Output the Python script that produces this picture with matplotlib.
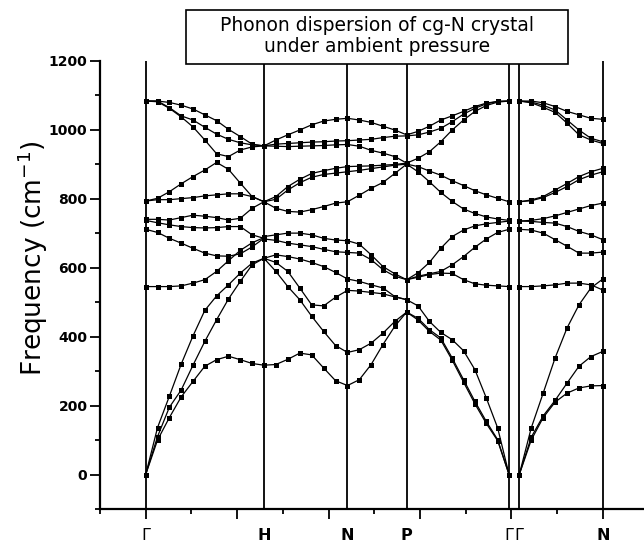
import numpy as np
import matplotlib
matplotlib.use("Agg")
import matplotlib.pyplot as plt
from matplotlib.patches import Rectangle
from matplotlib.ticker import MultipleLocator, NullFormatter

# high-symmetry points along the bcc path (x units of the original axis)
KPOS = [0.0, 1.293, 2.207, 2.854, 3.974, 4.086, 5.0]
KLAB = ["\u0393", "H", "N", "P", "\u0393", "\u0393", "N"]

# phonon frequencies (cm-1), one row per branch, read segment by segment
G_H = [
    [1083, 1083, 1079, 1071, 1060, 1043, 1026, 1001, 980, 958, 953],
    [1083, 1083, 1064, 1040, 1028, 1007, 987, 972, 962, 956, 953],
    [1083, 1081, 1062, 1037, 1008, 970, 930, 922, 941, 950, 953],
    [793, 801, 820, 843, 864, 883, 905, 885, 845, 806, 791],
    [793, 797, 797, 800, 803, 808, 811, 814, 814, 806, 791],
    [740, 740, 738, 745, 752, 749, 745, 738, 743, 772, 791],
    [737, 730, 724, 719, 716, 715, 716, 719, 719, 695, 685],
    [711, 702, 685, 671, 656, 642, 634, 633, 640, 660, 685],
    [545, 545, 545, 547, 555, 565, 589, 620, 650, 672, 687],
    [0, 136, 227, 320, 402, 476, 518, 550, 584, 613, 627],
    [0, 110, 195, 245, 317, 386, 449, 509, 560, 608, 627],
    [0, 100, 165, 225, 270, 314, 333, 343, 333, 322, 317],
]
H_N = [
    [953, 970, 985, 999, 1014, 1025, 1030, 1033],
    [953, 958, 960, 962, 964, 965, 967, 968],
    [953, 952, 951, 952, 953, 954, 956, 957],
    [791, 806, 835, 856, 873, 881, 888, 893],
    [791, 798, 825, 846, 862, 870, 874, 878],
    [791, 772, 763, 761, 768, 777, 787, 791],
    [690, 695, 700, 700, 695, 685, 680, 678],
    [683, 679, 671, 666, 661, 653, 646, 644],
    [627, 637, 632, 625, 615, 603, 586, 567],
    [627, 615, 589, 541, 492, 489, 514, 534],
    [627, 589, 545, 507, 459, 415, 374, 354],
    [317, 319, 334, 352, 347, 309, 272, 258],
]
N_P = [
    [1033, 1028, 1021, 1010, 999, 985],
    [968, 970, 972, 977, 981, 982],
    [957, 952, 940, 932, 922, 903],
    [893, 894, 895, 897, 899, 903],
    [878, 882, 887, 892, 897, 900],
    [791, 810, 830, 847, 873, 900],
    [678, 668, 637, 603, 582, 565],
    [644, 642, 623, 594, 575, 565],
    [567, 560, 550, 541, 516, 507],
    [534, 532, 528, 524, 515, 507],
    [354, 362, 381, 410, 444, 471],
    [258, 275, 319, 377, 430, 471],
]
P_G = [
    [985, 995, 1010, 1028, 1040, 1053, 1067, 1077, 1082, 1083],
    [982, 985, 993, 1004, 1023, 1045, 1062, 1075, 1082, 1083],
    [903, 917, 936, 965, 999, 1028, 1053, 1070, 1080, 1083],
    [900, 893, 880, 868, 852, 838, 823, 811, 801, 791],
    [900, 878, 849, 818, 792, 770, 757, 747, 741, 737],
    [565, 585, 615, 656, 690, 709, 721, 727, 731, 735],
    [565, 575, 582, 589, 608, 632, 659, 683, 702, 711],
    [565, 572, 580, 584, 583, 565, 553, 549, 547, 545],
    [507, 489, 444, 412, 391, 359, 304, 222, 135, 0],
    [471, 453, 420, 396, 338, 275, 212, 154, 101, 0],
    [471, 448, 415, 390, 332, 268, 205, 148, 98, 0],
]
G_N = [
    [1083, 1083, 1078, 1067, 1053, 1043, 1033, 1030],
    [1083, 1080, 1071, 1057, 1028, 999, 975, 965],
    [1083, 1078, 1065, 1050, 1019, 985, 970, 960],
    [791, 796, 806, 825, 844, 864, 878, 888],
    [791, 794, 803, 818, 835, 855, 868, 878],
    [735, 737, 742, 750, 760, 770, 780, 787],
    [735, 734, 731, 729, 719, 705, 695, 681],
    [711, 709, 700, 681, 662, 642, 642, 645],
    [545, 545, 547, 550, 555, 555, 550, 535],
    [0, 135, 236, 338, 425, 492, 541, 567],
    [0, 108, 170, 215, 265, 314, 342, 357],
    [0, 100, 165, 210, 236, 251, 257, 258],
]
SEGMENTS = [(0, 1, G_H), (1, 2, H_N), (2, 3, N_P), (3, 4, P_G), (5, 6, G_N)]

W, H = 644, 544
fig = plt.figure(figsize=(W / 100, H / 100), dpi=100)
ax = fig.add_axes([100 / W, 1 - 509 / H, 544 / W, (509 - 60.7) / H])

for a, b, branches in SEGMENTS:
    for f in branches:
        x = np.linspace(KPOS[a], KPOS[b], len(f))
        ax.plot(x, f, "-s", color="black", lw=0.9, ms=3.6, mew=0, zorder=3)

ax.vlines(KPOS, -100, 1200, color="black", lw=1.3, zorder=2)

ax.set_xlim(-0.5, 5.45)
ax.set_ylim(-100, 1200)
for s in ("top", "right"):
    ax.spines[s].set_visible(False)
for s in ("left", "bottom"):
    ax.spines[s].set_linewidth(1.6)

ax.xaxis.set_major_locator(MultipleLocator(1))
ax.xaxis.set_minor_locator(MultipleLocator(0.5))
ax.xaxis.set_major_formatter(NullFormatter())
ax.yaxis.set_major_locator(MultipleLocator(200))
ax.yaxis.set_minor_locator(MultipleLocator(100))
ax.tick_params(which="major", length=7, width=1.3, direction="out", pad=2)
ax.tick_params(which="minor", length=3.6, width=1.3, direction="out")
for t in ax.get_yticklabels():
    t.set_fontsize(10)
    t.set_fontweight("bold")

for xk, lab in zip(KPOS, KLAB):
    ax.text(xk, -(543 - 509) / 448.3, lab, transform=ax.get_xaxis_transform(),
            ha="center", va="bottom", fontsize=11.5,
            fontweight="normal" if lab == "\u0393" else "bold", clip_on=False)

fig.text(33 / W, 1 - 258 / H, "Frequency (cm$^{-1}$)", rotation=90,
         ha="center", va="center", fontsize=19)

# title box
fig.add_artist(Rectangle((186 / W, 1 - 64 / H), (568 - 186) / W, 54 / H,
                         transform=fig.transFigure, facecolor="white",
                         edgecolor="black", lw=1.2, zorder=10))
fig.text(377 / W, 1 - 36 / H, "Phonon dispersion of cg-N crystal\nunder ambient pressure",
         ha="center", va="center", fontsize=13.5, linespacing=1.15, zorder=11)

fig.savefig("out.png", dpi=100)
